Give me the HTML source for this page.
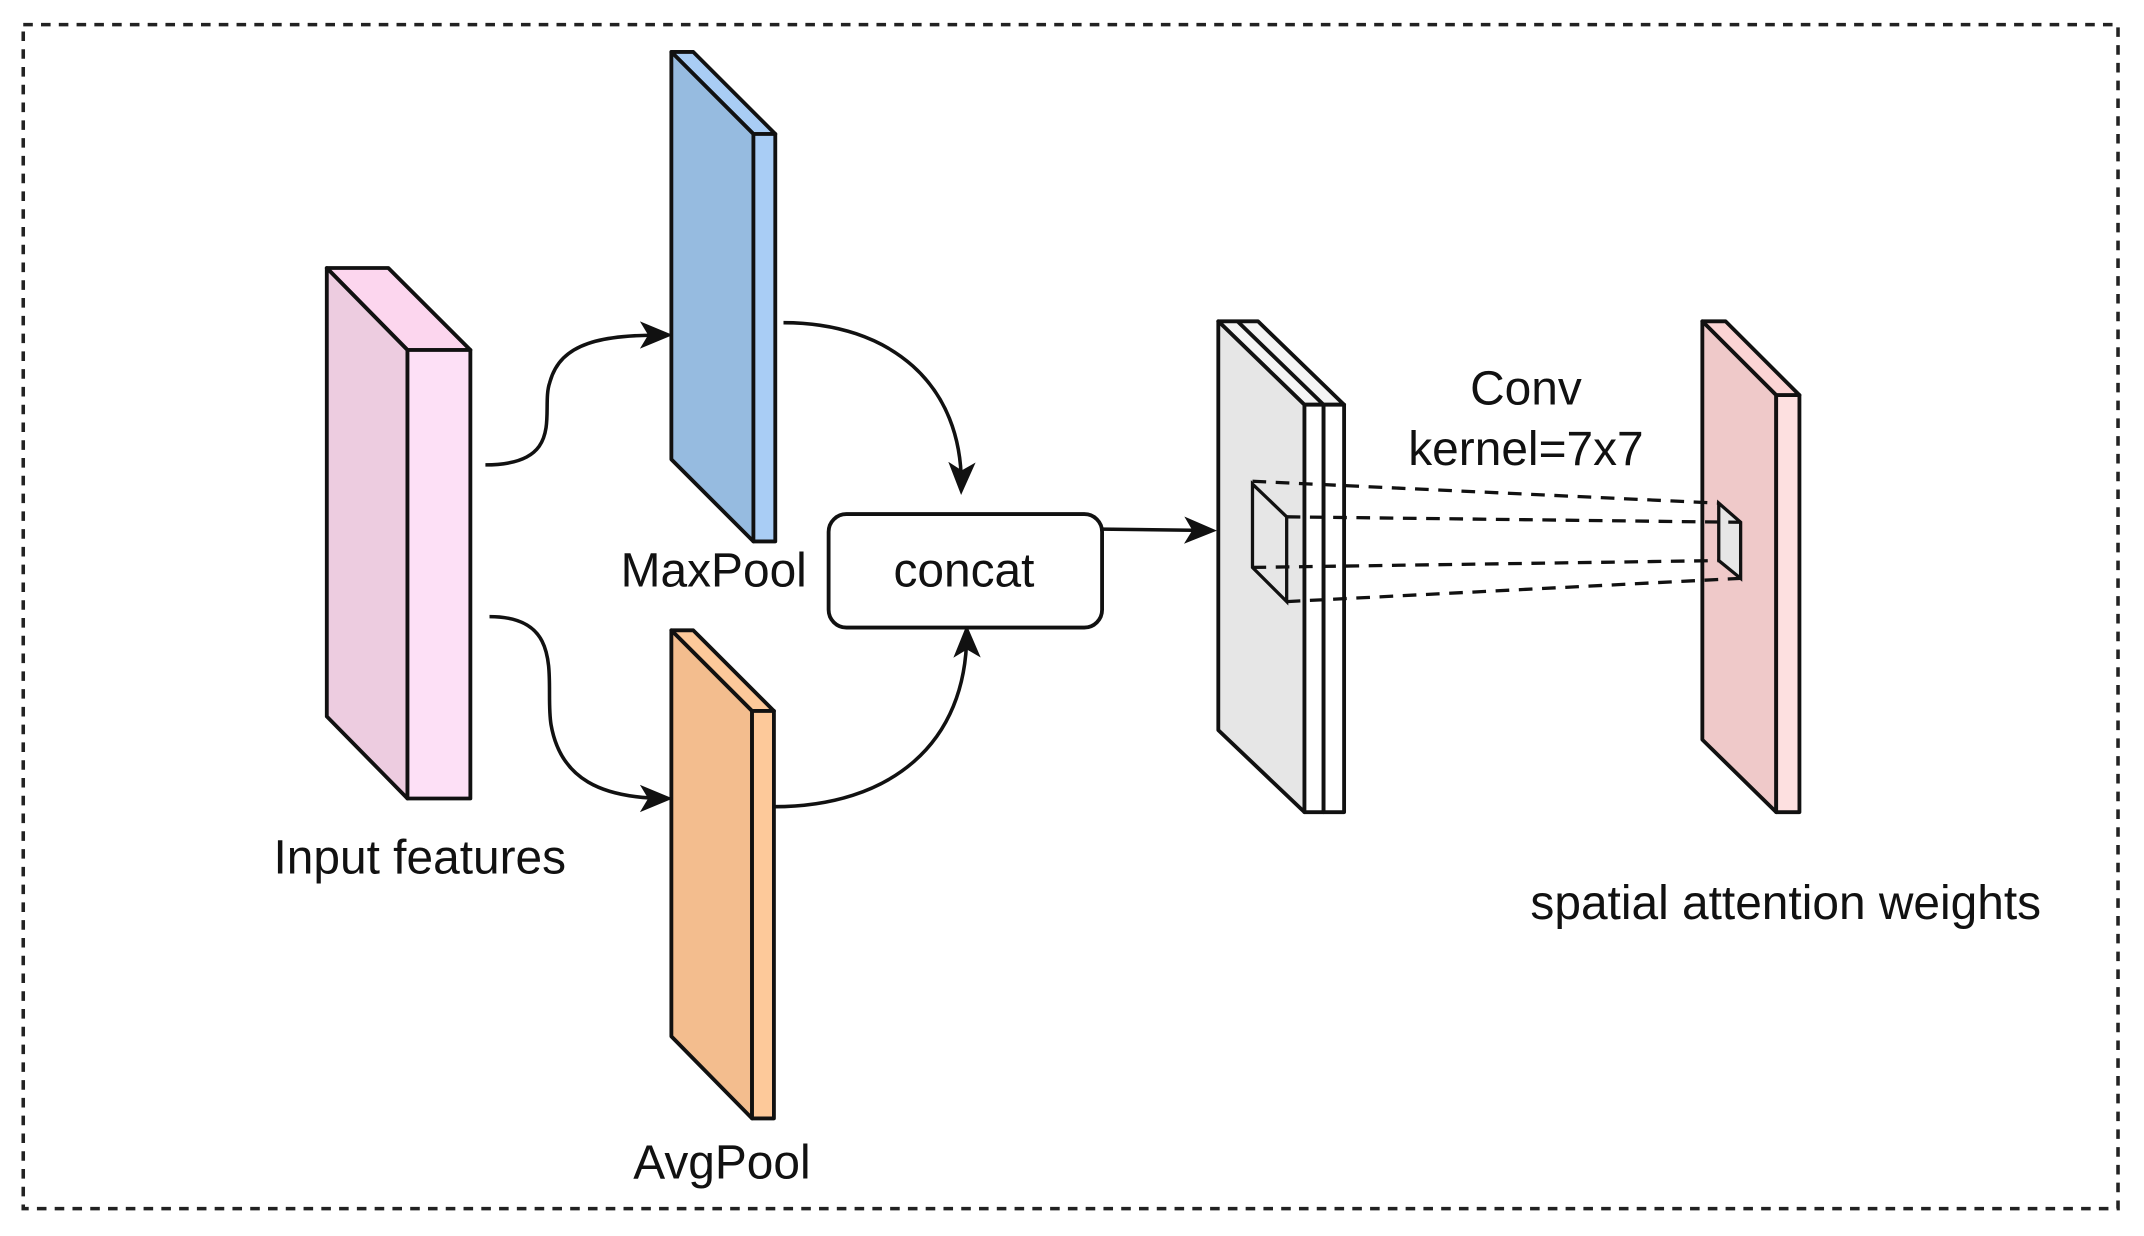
<!DOCTYPE html>
<html><head><meta charset="utf-8"><style>
html,body{margin:0;padding:0;background:#fff;}
svg{display:block;}
text{font-family:"Liberation Sans",Arial,sans-serif;fill:#111;}
</style></head><body>
<svg width="2144" height="1236" viewBox="0 0 1568 904" preserveAspectRatio="none" xmlns="http://www.w3.org/2000/svg">
<defs>
<marker id="ah2" markerWidth="24" markerHeight="24" refX="20" refY="12" orient="auto" markerUnits="userSpaceOnUse" viewBox="0 0 24 24">
<path d="M0,2 L24,12 L0,22 L6,12 Z" fill="#111"/>
</marker>
</defs>
<rect x="17" y="18" width="1532" height="866" fill="none" stroke="#222" stroke-width="2.6" stroke-dasharray="7,6"/>

<g stroke="#111" stroke-width="2.8" stroke-linejoin="round">
<polygon points="239,196 284,196 344,256 298,256" fill="#fcd6ee"/>
<polygon points="239,196 298,256 298,584 239,524" fill="#edcce0"/>
<rect x="298" y="256" width="46" height="328" fill="#fde0f6"/>
<polygon points="491,38 507,38 567,98 551,98" fill="#a9cdf5"/>
<polygon points="491,38 551,98 551,396 491,336" fill="#96bbe0"/>
<rect x="551" y="98" width="16" height="298" fill="#a9cdf5"/>
<polygon points="491,461 507,461 566,520 550,520" fill="#fdc99a"/>
<polygon points="491,461 550,520 550,818 491,758" fill="#f3bd8e"/>
<rect x="550" y="520" width="16" height="298" fill="#fdc99a"/>
<polygon points="891,235 920,235 983,296 954,296" fill="#f4f4f4"/>
<line x1="905" y1="235" x2="968" y2="296"/>
<polygon points="891,235 954,296 954,594 891,534" fill="#e6e6e6"/>
<rect x="954" y="296" width="14" height="298" fill="#fff"/>
<rect x="968" y="296" width="15" height="298" fill="#fff"/>
<polygon points="1245,235 1262,235 1316,289 1299,289" fill="#fbd4d4"/>
<polygon points="1245,235 1299,289 1299,594 1245,541" fill="#efc9c9"/>
<rect x="1299" y="289" width="17" height="305" fill="#fde0e0"/>
</g>

<g stroke="#111" stroke-width="2.4" fill="none">
<polygon points="916,354 941,378 941,440 916,415" fill="#e6e6e6"/>
<polygon points="1257,368 1273,382 1273,423 1257,410" fill="#e6e6e6"/>
</g>
<g stroke="#111" stroke-width="2.4" stroke-dasharray="10,7" fill="none">
<line x1="916" y1="352" x2="1257" y2="368"/>
<line x1="941" y1="378" x2="1273" y2="382"/>
<line x1="916" y1="415" x2="1257" y2="410"/>
<line x1="941" y1="440" x2="1273" y2="423"/>
</g>

<g stroke="#111" stroke-width="2.6" fill="none">
<path d="M355,340 C415,340 395,300 402,280 C410,250 440,245 488,245" marker-end="url(#ah2)"/>
<path d="M358,451 C415,451 398,500 403,530 C410,570 440,584 488,584" marker-end="url(#ah2)"/>
<path d="M573,236 C650,236 705,280 703,358" marker-end="url(#ah2)"/>
<path d="M566,590 C650,590 708,545 707,461" marker-end="url(#ah2)"/>
<path d="M806,387 L886,388" marker-end="url(#ah2)"/>
</g>

<rect x="606" y="376" width="200" height="83" rx="13" fill="#fff" stroke="#111" stroke-width="2.8"/>
<text x="705" y="429" font-size="35" text-anchor="middle">concat</text>
<text x="522" y="429" font-size="35" text-anchor="middle">MaxPool</text>
<text x="528" y="862" font-size="35" text-anchor="middle">AvgPool</text>
<text x="307" y="639" font-size="35" text-anchor="middle">Input features</text>
<text x="1116" y="296" font-size="35" text-anchor="middle">Conv</text>
<text x="1116" y="340" font-size="35" text-anchor="middle">kernel=7x7</text>
<text x="1306" y="672" font-size="35" text-anchor="middle">spatial attention weights</text>
</svg>
</body></html>
